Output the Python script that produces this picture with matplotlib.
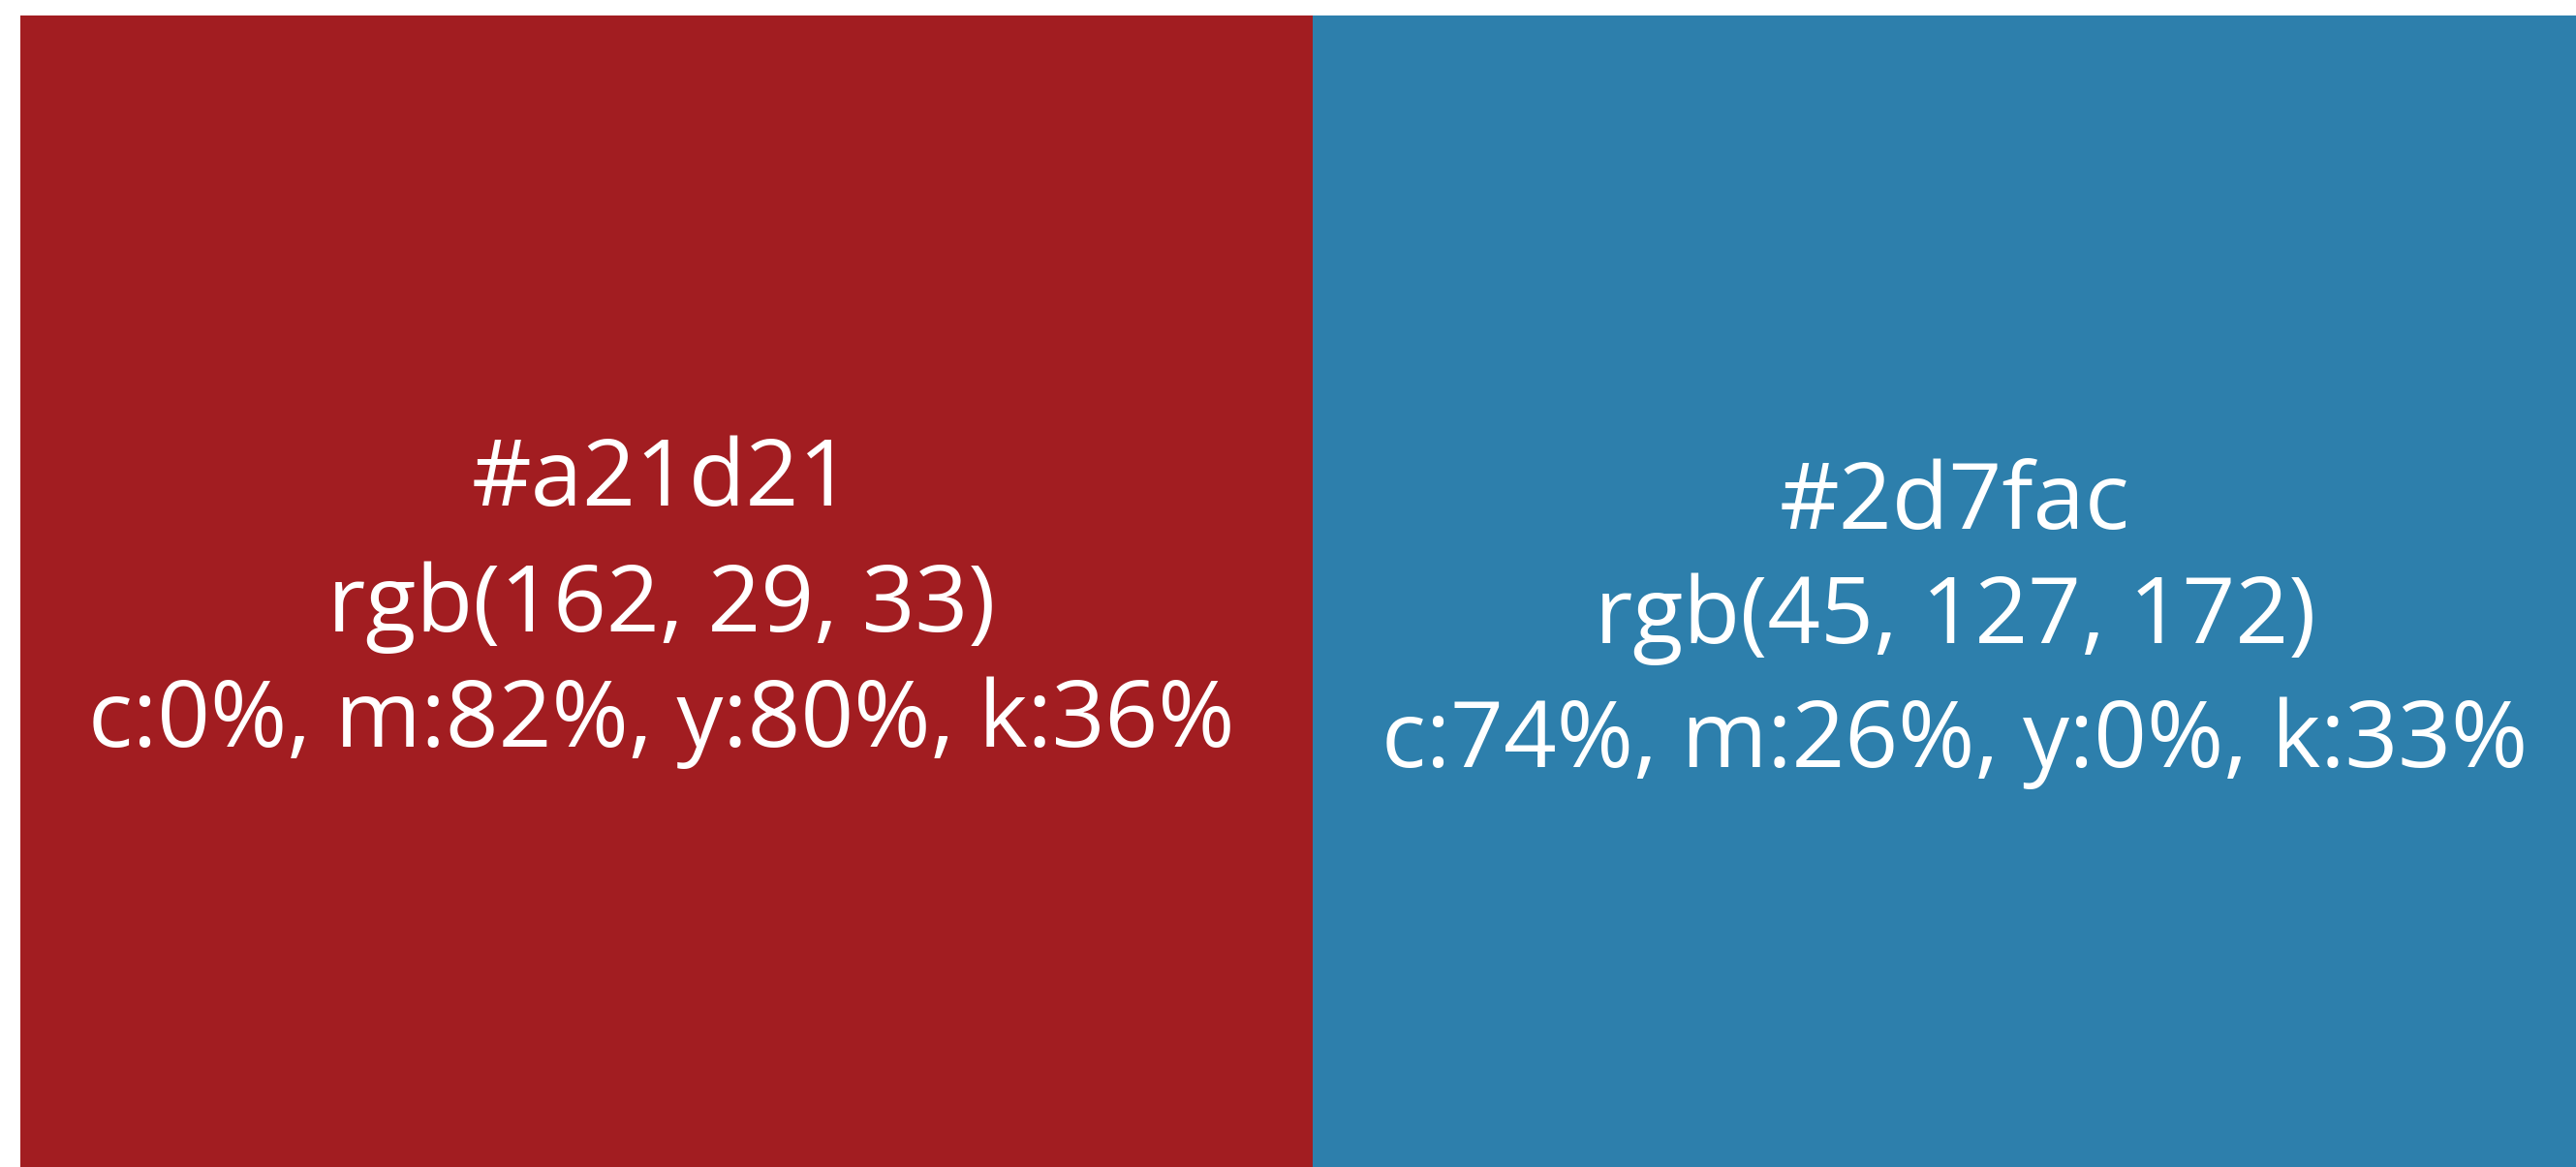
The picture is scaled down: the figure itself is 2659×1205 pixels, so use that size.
import matplotlib.pyplot as plt

# swatch data
hex_codes = ['#a21d21', '#2d7fac']
rgb_values = [(162, 29, 33), (45, 127, 172)]
cmyk_values = [(0, 82, 80, 36), (74, 26, 0, 33)]

# layout in pixels (figure is 2659 x 1205)
W, H = 2659, 1205
left_edge = 21
top_edge = 16
swatch_widths = [1334, 1304]
text_x = [683, 2018]
text_y = [[497, 627, 746], [521, 639, 767]]

plt.rcParams['font.family'] = ['Open Sans', 'DejaVu Sans']

fig = plt.figure(figsize=(W / 100, H / 100), dpi=100)
ax = fig.add_axes([0, 0, 1, 1])
ax.set_xlim(0, W)
ax.set_ylim(H, 0)
ax.axis('off')

lefts = [left_edge, left_edge + swatch_widths[0]]
ax.bar(lefts, H - top_edge, width=swatch_widths, bottom=top_edge,
       align='edge', color=hex_codes, linewidth=0)

for i, code in enumerate(hex_codes):
    r, g, b = rgb_values[i]
    c, m, y, k = cmyk_values[i]
    lines = [code,
             f'rgb({r}, {g}, {b})',
             f'c:{c}%, m:{m}%, y:{y}%, k:{k}%']
    for j, line in enumerate(lines):
        ax.text(text_x[i], text_y[i][j], line, color='white', fontsize=69,
                fontweight='medium', ha='center', va='center')

fig.savefig('out.png', dpi=100)
